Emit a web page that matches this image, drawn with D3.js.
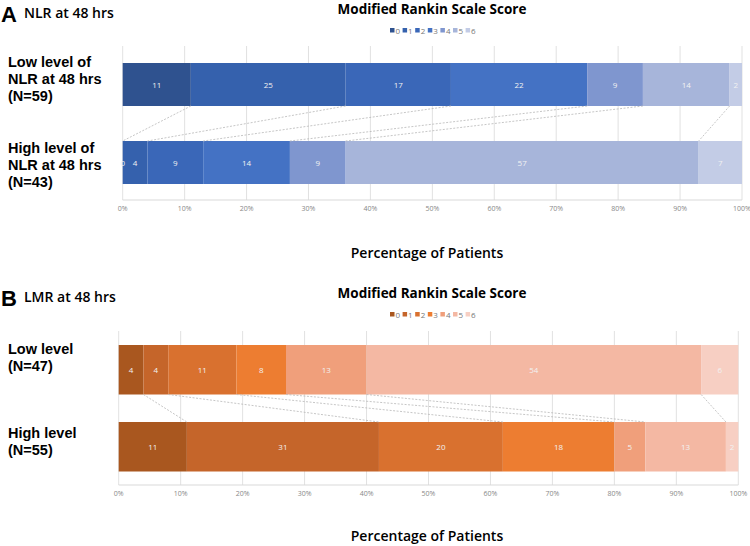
<!DOCTYPE html>
<html>
<head>
<meta charset="utf-8">
<script src="https://cdn.jsdelivr.net/npm/d3@7"></script>
<style>
  body { margin: 0; background: #fff; }
  svg { font-family: "Open Sans", "Noto Sans", sans-serif; }
</style>
</head>
<body>
<svg id="chart" width="750" height="546"></svg>
<script>
// mRS score categories
const scores = ["0", "1", "2", "3", "4", "5", "6"];

// Panel A: NLR at 48 hrs (percent of patients per score)
const nlrLow = [11, 25, 17, 22, 9, 14, 2];
const nlrHigh = [0, 4, 9, 14, 9, 57, 7];
const nlrGroups = [["Low level of", "NLR at 48 hrs", "(N=59)"], ["High level of", "NLR at 48 hrs", "(N=43)"]];

// Panel B: LMR at 48 hrs
const lmrLow = [4, 4, 11, 8, 13, 54, 6];
const lmrHigh = [11, 31, 20, 18, 5, 13, 2];
const lmrGroups = [["Low level", "(N=47)"], ["High level", "(N=55)"]];

const ticks = [0, 10, 20, 30, 40, 50, 60, 70, 80, 90, 100];

const blues = ["#2f528f", "#3561ad", "#3a67b8", "#4472c4", "#7f96cf", "#a7b5da", "#c3cce6"];
const oranges = ["#a9571f", "#c5652a", "#d9712f", "#ed7d31", "#f09f7b", "#f4b8a3", "#f7cfc3"];

const svg = d3.select("#chart");

function drawPanel(opt) {
    const g = svg.append("g");
    const x = d3.scaleLinear().domain([0, 100]).range([opt.x0, opt.x1]);
    const color = d3.scaleOrdinal().domain(scores).range(opt.colors);
    const rows = [opt.low, opt.high];

    // panel letter and name
    g.append("text").attr("x", 1).attr("y", opt.top + 22)
        .style("font-size", "22px").style("font-weight", "bold")
        .style("font-family", "Liberation Sans, Arial, sans-serif")
        .text(opt.letter);
    g.append("text").attr("x", 24).attr("y", opt.top + 18)
        .style("font-size", "14px").style("font-weight", 600)
        .text(opt.name);

    // chart title
    g.append("text").attr("x", 432).attr("y", opt.top + 14)
        .attr("text-anchor", "middle")
        .style("font-size", "13.5px").style("font-weight", "bold")
        .text("Modified Rankin Scale Score");

    // legend
    const leg = g.append("g").attr("transform", `translate(390,${opt.top + 31})`);
    scores.forEach(function (s, i) {
        leg.append("rect").attr("x", i * 12.6).attr("y", -3)
            .attr("width", 4.5).attr("height", 4.5).attr("fill", opt.colors[i]);
        leg.append("text").attr("x", i * 12.6 + 5.5).attr("y", 3)
            .style("font-size", "8px").style("fill", "#777").text(s);
    });

    // gridlines
    g.selectAll(".grid").data(ticks).enter().append("line")
        .attr("x1", d => x(d)).attr("x2", d => x(d))
        .attr("y1", opt.gridTop).attr("y2", opt.axisY)
        .attr("stroke", "#d9d9d9").attr("stroke-width", 0.8);

    // bars
    rows.forEach(function (vals, r) {
        let cum = 0;
        const segs = vals.map(function (v, i) {
            const s = { score: scores[i], v: v, start: cum, end: cum + v };
            cum += v;
            return s;
        });
        const y0 = opt.barY[r];
        const bg = g.append("g");
        bg.selectAll("rect").data(segs).enter().append("rect")
            .attr("x", d => x(d.start)).attr("y", y0)
            .attr("width", d => x(d.end) - x(d.start))
            .attr("height", opt.barH)
            .attr("fill", d => color(d.score));
        bg.selectAll("text").data(segs).enter().append("text")
            .attr("x", d => x((d.start + d.end) / 2))
            .attr("y", y0 + opt.barH / 2 + 3)
            .attr("text-anchor", "middle")
            .style("font-size", "8px").style("fill", "#f2f2f2")
            .text(d => d.v);

        // group label, first baseline given, lines 17px apart
        opt.groups[r].forEach(function (l, k) {
            g.append("text").attr("x", 8).attr("y", opt.labelY[r] + k * 17)
                .style("font-size", "14.5px").style("font-weight", "bold")
                .style("font-family", "Liberation Sans, Arial, sans-serif")
                .text(l);
        });
    });

    // series lines between bars
    const cumLow = d3.cumsum(opt.low);
    const cumHigh = d3.cumsum(opt.high);
    g.selectAll(".series-line").data(scores.slice(0, 6)).enter().append("line")
        .attr("x1", (d, i) => x(cumLow[i])).attr("y1", opt.barY[0] + opt.barH)
        .attr("x2", (d, i) => x(cumHigh[i])).attr("y2", opt.barY[1])
        .attr("stroke", "#b8b8b8").attr("stroke-width", 0.8)
        .attr("stroke-dasharray", "2,1.5");

    // x axis
    g.append("line").attr("x1", x(0)).attr("x2", x(100))
        .attr("y1", opt.axisY).attr("y2", opt.axisY)
        .attr("stroke", "#d9d9d9").attr("stroke-width", 1);
    g.selectAll(".tick").data(ticks).enter().append("text")
        .attr("x", d => x(d)).attr("y", opt.axisY + 11)
        .attr("text-anchor", "middle")
        .style("font-size", "7px").style("fill", "#888")
        .text(d => d + "%");

    g.append("text").attr("x", 427).attr("y", opt.titleY)
        .attr("text-anchor", "middle")
        .style("font-size", "14px").style("font-weight", 600)
        .text("Percentage of Patients");
}

drawPanel({
    letter: "A", name: "NLR at 48 hrs", top: 0,
    low: nlrLow, high: nlrHigh, groups: nlrGroups, colors: blues,
    x0: 122.7, x1: 742, gridTop: 46, barY: [63, 141], barH: 43,
    labelY: [67, 153], axisY: 200, titleY: 258
});

drawPanel({
    letter: "B", name: "LMR at 48 hrs", top: 284,
    low: lmrLow, high: lmrHigh, groups: lmrGroups, colors: oranges,
    x0: 118.7, x1: 738.3, gridTop: 331, barY: [345, 422], barH: 49.5,
    labelY: [354, 438], axisY: 485, titleY: 541
});
</script>
</body>
</html>
